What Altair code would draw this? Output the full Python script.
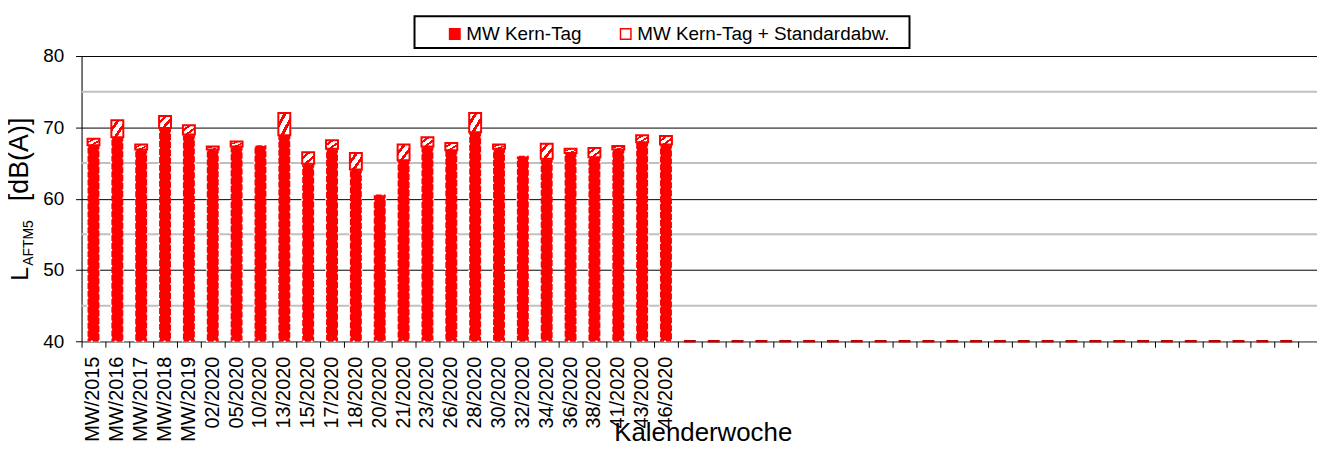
import altair as alt
import pandas as pd

# ---------------- data ----------------
week_labels = ["MW/2015", "MW/2016", "MW/2017", "MW/2018", "MW/2019",
               "02/2020", "05/2020", "10/2020", "13/2020", "15/2020",
               "17/2020", "18/2020", "20/2020", "21/2020", "23/2020",
               "26/2020", "28/2020", "30/2020", "32/2020", "34/2020",
               "36/2020", "38/2020", "41/2020", "43/2020", "46/2020"]
mw_kern_tag = [67.5, 68.6, 66.9, 69.9, 69.0,
               66.9, 67.3, 67.5, 68.9, 64.9,
               67.0, 64.1, 60.6, 65.4, 67.3,
               66.8, 69.3, 67.0, 66.0, 65.6,
               66.4, 65.8, 66.9, 67.9, 67.6]
std_abw = [0.9, 2.4, 0.7, 1.7, 1.3,
           0.4, 0.7, 0.0, 3.1, 1.6,
           1.2, 2.3, 0.0, 2.2, 1.3,
           1.0, 2.7, 0.6, 0.0, 2.1,
           0.6, 1.3, 0.5, 1.0, 1.2]
# empty calendar-week slots (no measurement yet -> 0)
empty_slots = ["_e%02d" % i for i in range(1, 27)]
empty_values = [0, 0, 0, 0, 0, 0, 0, 0, 0, 0, 0, 0, 0,
                0, 0, 0, 0, 0, 0, 0, 0, 0, 0, 0, 0, 0]
empty_sd = [0, 0, 0, 0, 0, 0, 0, 0, 0, 0, 0, 0, 0,
            0, 0, 0, 0, 0, 0, 0, 0, 0, 0, 0, 0, 0]
trailing_slot = ["_e27"]

series_names = ["MW Kern-Tag", "MW Kern-Tag + Standardabw."]
y_ticks = [40, 50, 60, 70, 80]
minor_grid = [45, 55, 65, 75]

cats = week_labels + empty_slots
df = pd.DataFrame({
    "cat": cats,
    "mw": mw_kern_tag + empty_values,
    "sd": std_abw + empty_sd,
    "series": [series_names[0]] * len(cats),
})
domain_keys = cats + trailing_slot

FONT = "Liberation Sans"
RED = "#ff0000"
W, H = 1243, 287

x_scale = alt.Scale(domain=domain_keys, paddingInner=0, paddingOuter=0,
                    range=[0, 24 * len(domain_keys)])
y_scale = alt.Scale(domain=[40, 80], nice=False, zero=False, clamp=True)

y_axis = alt.Axis(
    values=y_ticks, title=None,
    labelFont=FONT, labelFontSize=19, labelColor="black", labelPadding=12,
    grid=True, gridColor="#000000", gridWidth=1,
    tickColor="black", tickSize=6, tickWidth=1,
    domainColor="black", domainWidth=1,
)

label_axis = alt.Axis(
    orient="bottom", ticks=False, grid=False,
    labelExpr="substring(datum.label, 0, 1) === '_' ? '' : datum.label",
    labelAngle=270, labelAlign="right", labelBaseline="middle",
    labelFont=FONT, labelFontSize=20, labelColor="black", labelPadding=15,
    labelOverlap=False, labelBound=False, labelFlush=False,
    domainColor="#808080", domainWidth=1.5,
    title="Kalenderwoche", titleFont=FONT, titleFontSize=26, titleFontWeight="normal",
    titleColor="black", titleX=625, titleY=100, titleBaseline="alphabetic",
    titleAlign="center",
)
tick_axis = alt.Axis(
    orient="bottom", labels=False, ticks=True, tickSize=6, tickColor="black",
    tickWidth=1, bandPosition=0, domain=False, grid=False, title=None,
)

base = alt.Chart(df)

minor_rules = alt.Chart(pd.DataFrame({"v": minor_grid})).mark_rule(
    color="#c0c0c0", strokeWidth=2
).encode(
    y=alt.Y("v:Q", scale=y_scale, axis=y_axis),
    x=alt.value(0), x2=alt.value(W),
)

mw_bars = base.transform_filter("datum.mw > 40").mark_bar(
    width=alt.RelativeBandSize(0.5), stroke="white", strokeWidth=1.5, strokeDash=[2, 6]
).encode(
    x=alt.X("cat:N", scale=x_scale, axis=label_axis, sort=domain_keys),
    y=alt.Y("mw:Q", scale=y_scale),
    fill=alt.Fill("series:N",
                  scale=alt.Scale(domain=series_names, range=[RED, "#ffffff"]),
                  legend=alt.Legend(
                      orient="none", legendX=366, legendY=-32, direction="horizontal",
                      title=None, symbolType="square", symbolSize=110,
                      symbolStrokeColor=RED, symbolStrokeWidth=1.5,
                      labelFont=FONT, labelFontSize=19, labelColor="black",
                      labelLimit=400, labelOffset=2, columnPadding=34, padding=0,
                  )),
)

empty_bars = base.transform_filter("datum.mw <= 40").mark_bar(
    width=alt.RelativeBandSize(0.5), fill=RED, stroke="#c00000", strokeWidth=2.5
).encode(
    x=alt.X("cat:N", scale=x_scale, axis=None, sort=domain_keys),
    y=alt.Y("mw:Q", scale=y_scale),
)

hatch = alt.LinearGradient(
    gradient="linear", x1=0, y1=0, x2=1, y2=1,
    stops=[
        alt.GradientStop(color="white", offset=0),
        alt.GradientStop(color="white", offset=0.22),
        alt.GradientStop(color=RED, offset=0.22),
        alt.GradientStop(color=RED, offset=0.36),
        alt.GradientStop(color="white", offset=0.36),
        alt.GradientStop(color="white", offset=0.58),
        alt.GradientStop(color=RED, offset=0.58),
        alt.GradientStop(color=RED, offset=0.72),
        alt.GradientStop(color="white", offset=0.72),
        alt.GradientStop(color="white", offset=1),
    ],
)

sd_bars = base.transform_filter("datum.sd > 0").transform_calculate(
    top="datum.mw + datum.sd"
).mark_bar(
    width=alt.RelativeBandSize(0.5), fill=hatch, stroke=RED, strokeWidth=2
).encode(
    x=alt.X("cat:N", scale=x_scale, axis=tick_axis, sort=domain_keys),
    y=alt.Y("top:Q", scale=y_scale),
    y2="mw:Q",
)

one = alt.Data(values=[{"k": 1}])
legend_box = alt.Chart(one).mark_rect(
    fill="white", stroke="black", strokeWidth=2
).encode(
    x=alt.value(335), x2=alt.value(833), y=alt.value(-40), y2=alt.value(-8)
)

t_L = alt.Chart(one).mark_text(
    text="L", font=FONT, fontSize=25, angle=270, align="left", baseline="alphabetic", color="black"
).encode(x=alt.value(-54), y=alt.value(226))
t_sub = alt.Chart(one).mark_text(
    text="AFTM5", font=FONT, fontSize=14, angle=270, align="left", baseline="alphabetic", color="black"
).encode(x=alt.value(-49), y=alt.value(211))
t_unit = alt.Chart(one).mark_text(
    text="[dB(A)]", font=FONT, fontSize=27, angle=270, align="left", baseline="alphabetic", color="black"
).encode(x=alt.value(-54), y=alt.value(146))

chart = alt.layer(
    minor_rules, legend_box, mw_bars, empty_bars, sd_bars, t_L, t_sub, t_unit
).resolve_axis(x="independent").resolve_scale(x="shared").properties(
    width=W, height=H,
    autosize=alt.AutoSizeParams(type="none"),
    padding={"left": 74, "top": 47, "right": 0, "bottom": 100},
).configure_view(stroke=None).configure(background="white")

chart.save("out.html", embed_options={"renderer": "svg", "actions": False})
